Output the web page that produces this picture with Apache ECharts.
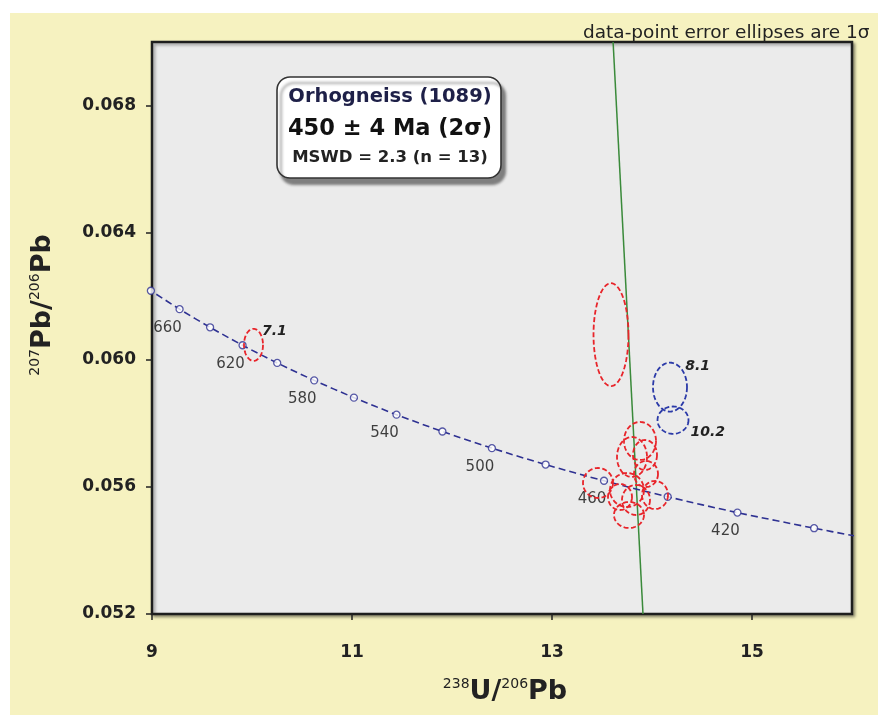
<!DOCTYPE html>
<html>
<head>
<meta charset="utf-8">
<script src="https://cdn.jsdelivr.net/npm/echarts@6/dist/echarts.min.js"></script>
<style>
  html, body { margin: 0; padding: 0; background: #ffffff; }
  #wrap { position: relative; width: 878px; height: 715px; background: #ffffff; overflow: hidden; }
  #bg { position: absolute; left: 10px; top: 13px; right: 0; bottom: 0; background: #f6f2c0; }
  #chart { position: absolute; left: 0; top: 0; width: 878px; height: 715px; }
</style>
</head>
<body>
<div id="wrap"><div id="bg"></div><div id="chart"></div></div>
<script>
// ---- Concordia (Tera-Wasserburg) age markers, Ma ----
const concAges = [390, 400, 420, 440, 460, 480, 500, 520, 540, 560, 580, 600, 620, 640, 660, 680];
const concX = [16.03, 15.621, 14.854, 14.157, 13.520, 12.936, 12.399, 11.904, 11.445, 11.019, 10.622, 10.252, 9.9055, 9.5808, 9.2758, 8.9888];
const concY = [0.054457, 0.054700, 0.055191, 0.055689, 0.056193, 0.056703, 0.057219, 0.057743, 0.058272, 0.058809, 0.059352, 0.059901, 0.060457, 0.061022, 0.061593, 0.062172];
const concLabelAges = [420, 460, 500, 540, 580, 620, 660];

// ---- Data-point error ellipses (centre x, centre y, semi-axis x, semi-axis y) ----
const redX  = [10.015, 13.59, 13.88, 13.80, 13.94, 13.46, 13.75, 14.03, 13.77, 13.84, 13.68, 13.93];
const redY  = [0.06047, 0.06079, 0.057445, 0.056941, 0.056406, 0.056123, 0.055902, 0.055745, 0.055116, 0.055588, 0.055682, 0.057004];
const redRX = [0.095, 0.175, 0.16, 0.15, 0.12, 0.15, 0.17, 0.13, 0.15, 0.14, 0.12, 0.12];
const redRY = [0.000504, 0.00162, 0.000598, 0.000629, 0.000409, 0.000472, 0.000535, 0.000441, 0.000409, 0.000472, 0.000409, 0.000472];
const redNames = ['7.1', '', '', '', '', '', '', '', '', '', '', ''];

const blueX  = [14.18, 14.21];
const blueY  = [0.05914, 0.05810];
const blueRX = [0.17, 0.155];
const blueRY = [0.00077, 0.00043];
const blueNames = ['8.1', '10.2'];

// ---- Regression line through data ----
const regX = [13.611, 13.91];
const regY = [0.070, 0.052];

// ---- Axis ticks ----
const xTicks = { min: 9, max: 16, step: 2 };
const yTicks = { min: 0.052, max: 0.070, step: 0.004 };

const FONT = '"DejaVu Sans", "Liberation Sans", Arial, sans-serif';
const LABEL_POS = { '7.1': 'tr', '8.1': 'tr', '10.2': 'br' };

function ellipseRenderer(color, names) {
  return function (params, api) {
    const c = api.coord([api.value(0), api.value(1)]);
    const s = api.size([api.value(2), api.value(3)]);
    const pts = [];
    const N = 72;
    for (let k = 0; k < N; k++) {
      const a = 2 * Math.PI * k / N;
      pts.push([c[0] + s[0] * Math.cos(a), c[1] + s[1] * Math.sin(a)]);
    }
    const children = [{
      type: 'polygon',
      shape: { points: pts },
      style: { fill: 'none', stroke: color, lineWidth: 1.8, lineDash: [5, 2.5] }
    }];
    const name = names[params.dataIndex];
    if (name) {
      const pos = LABEL_POS[name] || 'tr';
      let tx, ty;
      if (pos === 'tr') { tx = c[0] + s[0] * 0.9; ty = c[1] - s[1] * 0.85; }
      else { tx = c[0] + s[0] + 2; ty = c[1] + s[1] * 0.9; }
      children.push({
        type: 'text',
        style: {
          x: tx, y: ty, text: name,
          font: 'italic bold 14px ' + FONT,
          fill: '#222', textAlign: 'left', textVerticalAlign: 'middle'
        }
      });
    }
    return { type: 'group', children: children };
  };
}

const chart = echarts.init(document.getElementById('chart'), null, { renderer: 'canvas', width: 878, height: 715 });

const concLine = concX.map((x, i) => [x, concY[i]]);
const concMarkers = concX.map((x, i) => [x, concY[i], concAges[i]]).filter(d => d[2] >= 400);
const redData = redX.map((x, i) => [x, redY[i], redRX[i], redRY[i]]);
const blueData = blueX.map((x, i) => [x, blueY[i], blueRX[i], blueRY[i]]);
const regData = regX.map((x, i) => [x, regY[i]]);

const option = {
  backgroundColor: 'transparent',
  animation: false,
  grid: {
    left: 152, top: 42, width: 700, height: 572,
    show: true,
    backgroundColor: '#ebebeb',
    borderColor: '#1e1e1e',
    borderWidth: 2.5,
    shadowColor: 'rgba(0,0,0,0.35)',
    shadowBlur: 3,
    shadowOffsetX: 2,
    shadowOffsetY: 2
  },
  xAxis: {
    type: 'value',
    min: xTicks.min, max: xTicks.max, interval: xTicks.step,
    axisLine: { show: false },
    axisTick: { show: true, length: 6, lineStyle: { color: '#222', width: 1.5 } },
    splitLine: { show: false },
    axisLabel: {
      margin: 30, color: '#222', fontFamily: FONT, fontWeight: 'bold', fontSize: 17,
      showMaxLabel: false
    },
    name: '{sup|238}{b|U/}{sup|206}{b|Pb}',
    nameLocation: 'middle',
    nameGap: 63,
    nameTextStyle: {
      padding: [0, 0, 0, 6],
      rich: {
        sup: { fontFamily: FONT, fontSize: 14, color: '#222', verticalAlign: 'top', lineHeight: 30 },
        b: { fontFamily: FONT, fontSize: 27, fontWeight: 'bold', color: '#222', lineHeight: 30 }
      }
    }
  },
  yAxis: {
    type: 'value',
    min: yTicks.min, max: yTicks.max, interval: yTicks.step,
    axisLine: { show: false },
    axisTick: { show: true, length: 6, lineStyle: { color: '#222', width: 1.5 } },
    splitLine: { show: false },
    axisLabel: {
      margin: 16, color: '#222', fontFamily: FONT, fontWeight: 'bold', fontSize: 17,
      showMaxLabel: false,
      formatter: v => v.toFixed(3)
    },
    name: '{sup|207}{b|Pb/}{sup|206}{b|Pb}',
    nameLocation: 'middle',
    nameGap: 94,
    nameRotate: 90,
    nameTextStyle: {
      padding: [0, 0, 0, 46],
      rich: {
        sup: { fontFamily: FONT, fontSize: 14, color: '#222', verticalAlign: 'top', lineHeight: 30 },
        b: { fontFamily: FONT, fontSize: 27, fontWeight: 'bold', color: '#222', lineHeight: 30 }
      }
    }
  },
  graphic: [
    {
      type: 'rect', z: 100,
      shape: { x: 277, y: 77, width: 224, height: 101, r: 13 },
      style: {
        fill: '#ffffff', stroke: '#333', lineWidth: 1.6,
        shadowColor: 'rgba(0,0,0,0.45)', shadowBlur: 3, shadowOffsetX: 4, shadowOffsetY: 6
      }
    },
    {
      type: 'text', z: 101, x: 390, y: 97,
      style: { text: 'Orhogneiss (1089)', font: 'bold 19.5px ' + FONT, fill: '#1e2048', textAlign: 'center', textVerticalAlign: 'middle' }
    },
    {
      type: 'text', z: 101, x: 390, y: 129,
      style: { text: '450 ± 4 Ma (2σ)', font: 'bold 22.5px ' + FONT, fill: '#111', textAlign: 'center', textVerticalAlign: 'middle' }
    },
    {
      type: 'text', z: 101, x: 390, y: 158,
      style: { text: 'MSWD = 2.3 (n = 13)', font: 'bold 16.5px ' + FONT, fill: '#222', textAlign: 'center', textVerticalAlign: 'middle' }
    },
    {
      type: 'text', z: 101, x: 583, y: 33,
      style: { text: 'data-point error ellipses are 1σ', font: '18.5px ' + FONT, fill: '#222', textAlign: 'left', textVerticalAlign: 'middle' }
    }
  ],
  series: [
    {
      type: 'line',
      data: concLine,
      smooth: 0.3,
      showSymbol: false,
      clip: true,
      lineStyle: { color: '#2e3192', width: 1.6, type: [7, 4] },
      z: 3
    },
    {
      type: 'line',
      data: regData,
      showSymbol: false,
      clip: true,
      lineStyle: { color: '#3a8a3a', width: 1.5 },
      z: 2
    },
    {
      type: 'scatter',
      data: concMarkers,
      symbol: 'circle',
      symbolSize: 7,
      clip: false,
      itemStyle: { color: '#ffffff', borderColor: '#2e3192', borderWidth: 1.3 },
      label: {
        show: true,
        position: 'bottom',
        offset: [-12, 2],
        fontFamily: FONT, fontSize: 15, color: '#111',
        formatter: p => (concLabelAges.indexOf(p.value[2]) >= 0 ? String(p.value[2]) : '')
      },
      z: 4
    },
    {
      type: 'custom',
      data: redData,
      renderItem: ellipseRenderer('#e8242a', redNames),
      z: 5
    },
    {
      type: 'custom',
      data: blueData,
      renderItem: ellipseRenderer('#2b3aa8', blueNames),
      z: 5
    }
  ]
};

chart.setOption(option);
</script>
</body>
</html>
